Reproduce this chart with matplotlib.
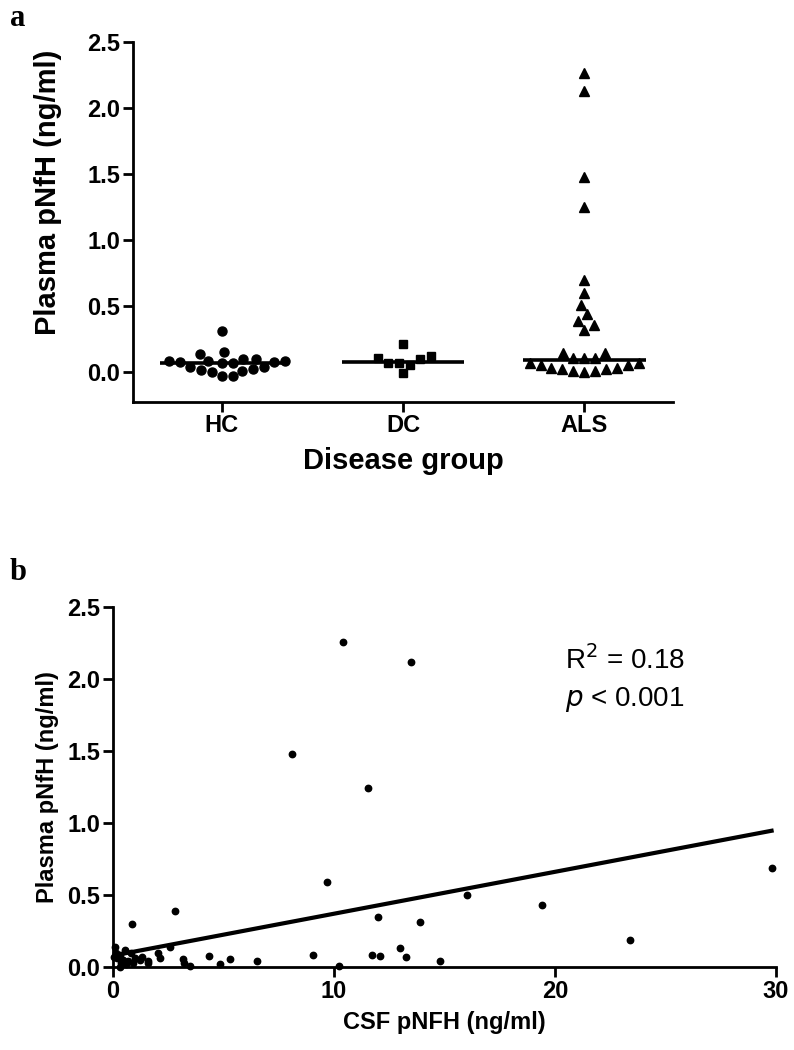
import numpy as np
import matplotlib
matplotlib.use("Agg")
import matplotlib.pyplot as plt

plt.rcParams['font.family'] = ['Liberation Sans', 'DejaVu Sans']

# ---------------- data: panel a ----------------
groups = ["HC", "DC", "ALS"]
hc_vals = [0.31, 0.15, 0.135, 0.10, 0.096, 0.085, 0.082, 0.08, 0.078, 0.075, 0.072, 0.07,
           0.04, 0.04, 0.02, 0.015, 0.01, 0.003, -0.03, -0.03]
dc_vals = [0.21, 0.12, 0.105, 0.095, 0.07, 0.065, 0.05, -0.01]
als_vals = [2.265, 2.13, 1.48, 1.25, 0.70, 0.60, 0.51, 0.44, 0.39, 0.36, 0.32,
            0.146, 0.146, 0.11, 0.11, 0.11,
            0.065, 0.065, 0.057, 0.057, 0.033, 0.033, 0.02, 0.02, 0.01, 0.01, 0.0]
group_medians = [0.065, 0.078, 0.09]
a_yticks = [0.0, 0.5, 1.0, 1.5, 2.0, 2.5]

# ---------------- data: panel b ----------------
csf_x = [10.4, 13.5, 8.1, 11.55, 29.8, 9.67, 16.0, 19.4, 2.8, 12.0, 13.9, 0.87, 23.4,
         11.7, 12.1, 13.0, 13.27, 14.8, 9.04, 6.5, 5.29, 4.34, 4.84, 10.24,
         3.15, 3.2, 3.5, 2.13, 2.04, 2.58, 1.58, 1.3,
         0.09, 0.54, 0.32, 0.2, 0.45, 0.7, 1.0, 0.15, 0.6, 0.9, 1.2, 0.05, 0.35, 0.8, 1.6, 0.3]
plasma_y = [2.26, 2.12, 1.48, 1.24, 0.69, 0.59, 0.50, 0.43, 0.39, 0.35, 0.31, 0.30, 0.19,
            0.083, 0.076, 0.134, 0.067, 0.044, 0.083, 0.044, 0.056, 0.076, 0.018, 0.007,
            0.053, 0.03, 0.01, 0.06, 0.097, 0.139, 0.028, 0.072,
            0.141, 0.118, 0.08, 0.06, 0.05, 0.04, 0.06, 0.1, 0.02, 0.03, 0.05, 0.07, 0.03, 0.1, 0.04, 0.0]
fit_intercept = 0.079
fit_slope = 0.0291
r2_text = "R$^2$ = 0.18"
p_text = "$p$ < 0.001"
b_yticks = [0.0, 0.5, 1.0, 1.5, 2.0, 2.5]
b_xticks = [0, 10, 20, 30]

# ---------------- figure ----------------
W, H = 794, 1050
fig = plt.figure(figsize=(W / 100, H / 100), dpi=100)

def ax_rect(l, r, t, b):
    return [l / W, 1 - b / H, (r - l) / W, (b - t) / H]

LW = 2.0
TICKFS = 17
LABFS_A = 21
LABFS_B = 17

# ---- panel a ----
axa = fig.add_axes(ax_rect(133, 673, 42, 402))
ya0, ya1 = -0.227, 2.5
xa0, xa1 = 0.51, 3.49
axa.set_xlim(xa0, xa1)
axa.set_ylim(ya0, ya1)

px_per_x = (673 - 133) / (xa1 - xa0)
px_per_y = (402 - 42) / (ya1 - ya0)

def swarm(vals, center, diam):
    order = np.argsort(vals)
    placed = []
    xs = np.zeros(len(vals))
    for i in order:
        y = vals[i] * px_per_y
        best = None
        for k in range(0, 200):
            for sgn in ([0] if k == 0 else [1, -1]):
                off = sgn * k * 0.5
                ok = all((off - px) ** 2 + (y - py) ** 2 >= diam ** 2 for px, py in placed)
                if ok:
                    best = off
                    break
            if best is not None:
                break
        placed.append((best, y))
        xs[i] = center + best / px_per_x
    return xs

markers = ['o', 's', '^']
msizes = [6.5, 6.3, 7.0]
all_vals = [hc_vals, dc_vals, als_vals]
for gi, (vals, mk, ms) in enumerate(zip(all_vals, markers, msizes)):
    vals = np.array(vals)
    xs = swarm(vals, gi + 1, 10.8)
    axa.plot(xs, vals, linestyle='none', marker=mk, ms=ms, color='black', mec='black', zorder=3)
    half = 61.5 / px_per_x
    axa.plot([gi + 1 - half, gi + 1 + half], [group_medians[gi]] * 2, color='black', lw=2.6,
             solid_capstyle='butt', zorder=4)

for s in ['top', 'right']:
    axa.spines[s].set_visible(False)
for s in ['left', 'bottom']:
    axa.spines[s].set_linewidth(LW)
axa.set_yticks(a_yticks)
axa.set_yticklabels([f"{v:.1f}" for v in a_yticks], fontweight='bold', fontsize=TICKFS)
axa.set_xticks([1, 2, 3])
axa.set_xticklabels(groups, fontweight='bold', fontsize=TICKFS)
axa.tick_params(width=LW, length=7, direction='out', pad=2)
fig.text(48 / W, 1 - 192 / H, "Plasma pNfH (ng/ml)", rotation=90, ha='center', va='center',
         fontweight='bold', fontsize=LABFS_A)
fig.text(403 / W, 1 - 461 / H, "Disease group", ha='center', va='center',
         fontweight='bold', fontsize=LABFS_A)

# ---- panel b ----
axb = fig.add_axes(ax_rect(113, 776, 607, 967))
axb.set_xlim(0, 30)
axb.set_ylim(0, 2.5)
axb.plot(csf_x, plasma_y, linestyle='none', marker='o', ms=4.6, color='black', zorder=3, clip_on=False)
xl = np.array([min(csf_x), max(csf_x)])
axb.plot(xl, fit_intercept + fit_slope * xl, color='black', lw=3.0, zorder=2)
for s in ['top', 'right']:
    axb.spines[s].set_visible(False)
for s in ['left', 'bottom']:
    axb.spines[s].set_linewidth(LW)
axb.set_yticks(b_yticks)
axb.set_yticklabels([f"{v:.1f}" for v in b_yticks], fontweight='bold', fontsize=TICKFS)
axb.set_xticks(b_xticks)
axb.set_xticklabels([str(v) for v in b_xticks], fontweight='bold', fontsize=TICKFS)
axb.tick_params(width=LW, length=7, direction='out', pad=2)
axb.set_ylabel("Plasma pNfH (ng/ml)", fontweight='bold', fontsize=LABFS_B, labelpad=6)
axb.set_xlabel("CSF pNFH (ng/ml)", fontweight='bold', fontsize=LABFS_B, labelpad=6)
axb.text(0.682, 0.853, r2_text, transform=axb.transAxes, fontsize=20, ha='left', va='center')
axb.text(0.682, 0.742, p_text, transform=axb.transAxes, fontsize=20, ha='left', va='center')

# panel letters
fig.text(10 / W, 1 - 18 / H, "a", family=['Liberation Serif'], fontweight='bold', fontsize=22, va='center')
fig.text(10 / W, 1 - 572 / H, "b", family=['Liberation Serif'], fontweight='bold', fontsize=22, va='center')

fig.savefig("out.png", dpi=100)
